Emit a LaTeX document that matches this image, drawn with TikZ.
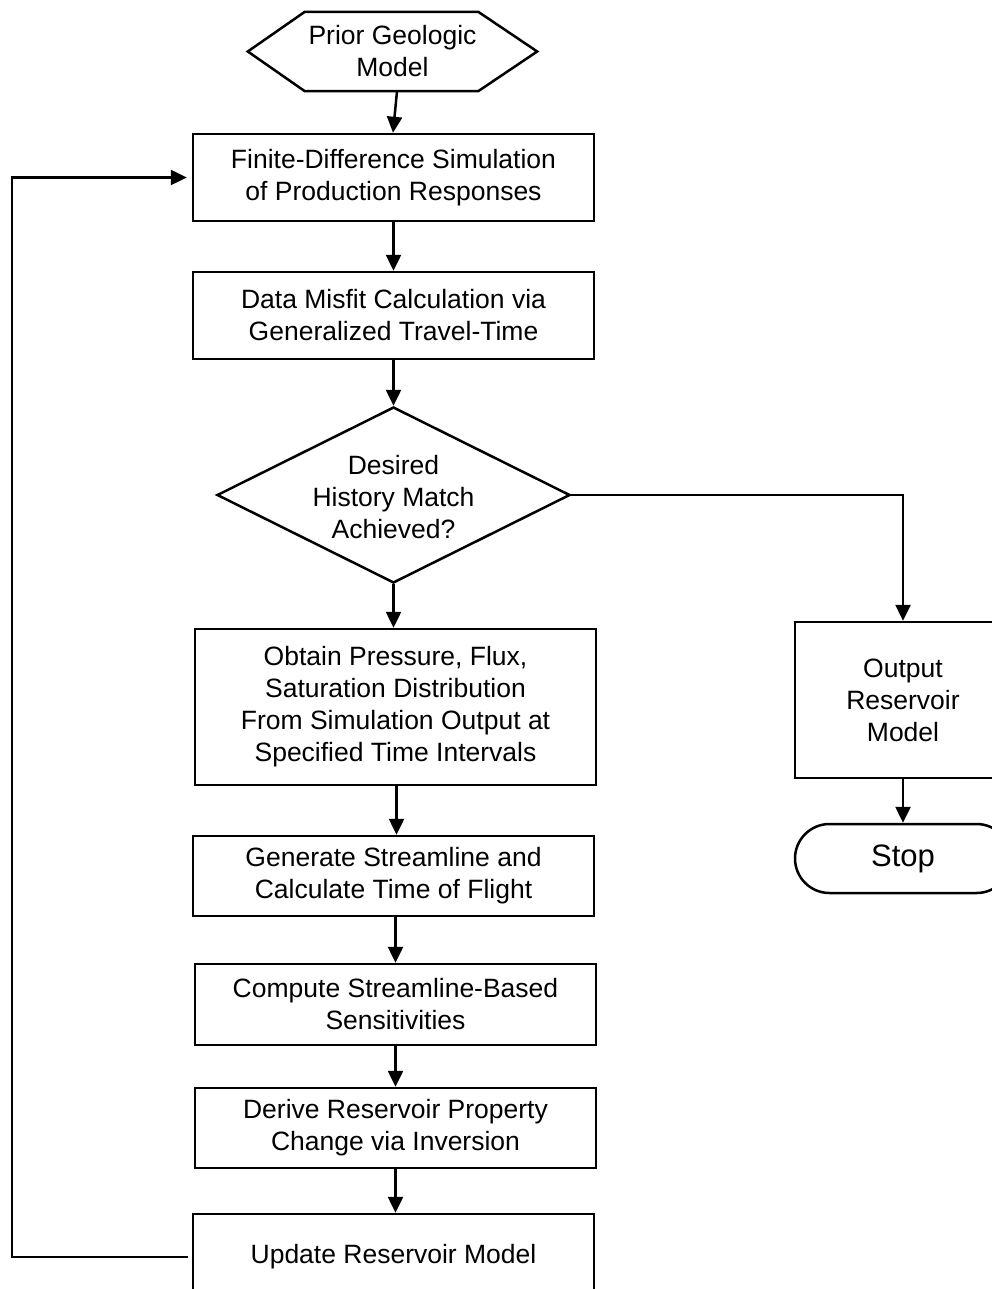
\documentclass[tikz,border=0pt]{standalone}
\usepackage{fontspec}
\setmainfont{Liberation Sans}
\usetikzlibrary{arrows.meta,shapes.geometric,shapes.misc}
\begin{document}
\begin{tikzpicture}[x=1pt,y=-1pt,
  every node/.style={font=\fontsize{26.5}{32}\selectfont, align=center, inner sep=0pt},
  stepbox/.style={draw, line width=2.5pt, minimum width=401pt},
  conn/.style={line width=2.5pt, -{Triangle[length=16pt,width=15pt]}},
  plain/.style={line width=2.5pt}]
\useasboundingbox (0,0) rectangle (992,1289);

% prior geologic model (hexagon)
\node[minimum width=289pt, minimum height=79pt] (hex) at (392.5,51.5) {Prior Geologic\\Model};
\draw[plain, line join=miter] (hex.west) -- ([xshift=57pt]hex.north west) -- ([xshift=-59pt]hex.north east)
   -- (hex.east) -- ([xshift=-59pt]hex.south east) -- ([xshift=57pt]hex.south west) -- cycle;

\node[stepbox, minimum height=87pt] (b1) at (393.5,177.5) {Finite-Difference Simulation\\of Production Responses};
\node[stepbox, minimum height=87pt] (b2) at (393.5,315.5) {Data Misfit Calculation via\\Generalized Travel-Time};

\node[diamond, draw, line width=2.5pt, minimum width=353pt, minimum height=176pt] (dec) at (393.5,495) {};
\node (dectext) at (393.5,497) {Desired\\History Match\\Achieved?};

\node[stepbox, minimum height=156pt] (b3) at (395.5,707) {Obtain Pressure, Flux,\\Saturation Distribution\\From Simulation Output at\\Specified Time Intervals};
\node[stepbox, minimum height=80pt] (b4) at (393.5,876) {Generate Streamline and\\Calculate Time of Flight};
\node[stepbox, minimum height=81pt] (b5) at (395.5,1004.5) {Compute Streamline-Based\\Sensitivities};
\node[stepbox, minimum height=80pt] (b6) at (395.5,1128) {Derive Reservoir Property\\Change via Inversion};
\node[stepbox, minimum height=86pt] (b7) at (393.5,1257) {Update Reservoir Model};

\node[draw, line width=2.5pt, minimum width=216pt, minimum height=156pt] (out) at (903,700) {Output\\Reservoir\\Model};
\node[draw, line width=2.5pt, rounded rectangle, minimum width=216pt, minimum height=69pt,
      font=\fontsize{31}{36}\selectfont] (stop) at (903,858.5) {Stop};

\coordinate (loopcorner) at (12,1257);

\draw[conn] ([xshift=4.5pt]hex.south) -- ([xshift=-0.5pt]b1.north);
\draw[conn] (b1.south) -- (b2.north);
\draw[conn] (b2.south) -- (dec.north);
\draw[conn] (dec.south) -- ([xshift=-2pt]b3.north);
\draw[conn] ([xshift=1pt]b3.south) -- ([xshift=3pt]b4.north);
\draw[conn] ([xshift=2pt]b4.south) -- (b5.north);
\draw[conn] (b5.south) -- (b6.north);
\draw[conn] (b6.south) -- ([xshift=2pt]b7.north);
\draw[conn] (dec.east) -| (out.north);
\draw[conn] (out.south) -- (stop.north);
\draw[conn] ([xshift=-4pt]b7.west) -- (loopcorner) |- ([xshift=-5pt]b1.west);
\end{tikzpicture}
\end{document}
